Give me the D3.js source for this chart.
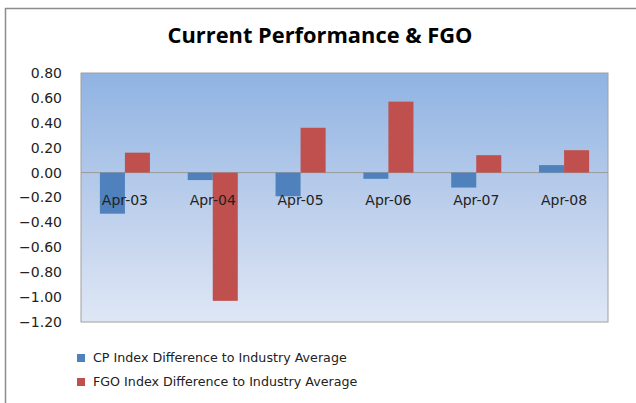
<!DOCTYPE html>
<html><head><meta charset="utf-8">
<script src="https://cdn.jsdelivr.net/npm/d3@7"></script>
<style>html,body{margin:0;padding:0;background:#fff;}svg{display:block;}</style>
</head><body>
<svg id="chart" width="636" height="403"></svg>
<script>
const categories = ["Apr-03","Apr-04","Apr-05","Apr-06","Apr-07","Apr-08"];
const cpValues  = [-0.33, -0.06, -0.19, -0.05, -0.12, 0.06];
const fgoValues = [0.16, -1.03, 0.36, 0.57, 0.14, 0.18];
const seriesNames = ["CP Index Difference to Industry Average","FGO Index Difference to Industry Average"];
const seriesColors = ["#4f81bd","#c0504d"];
const yTicks = [0.8,0.6,0.4,0.2,0,-0.2,-0.4,-0.6,-0.8,-1.0,-1.2];
const title = "Current Performance & FGO";

const svg = d3.select("#chart");
const font = "'DejaVu Sans', sans-serif";

// outer frame (top and left visible)
svg.append("path").attr("d","M5.5,403 V8.5 H636").attr("fill","none").attr("stroke","#8c8c8c").attr("stroke-width",1.5);

const L=81, R=608, T=73, B=322;
const y = d3.scaleLinear().domain([-1.2,0.8]).range([B,T]);
const x0 = d3.scaleBand().domain(categories).range([L,R]).paddingInner(0.43).paddingOuter(0.215);
const x1 = d3.scaleBand().domain([0,1]).range([0,x0.bandwidth()]);

const defs = svg.append("defs");
const g = defs.append("linearGradient").attr("id","bg").attr("x1",0).attr("y1",0).attr("x2",0).attr("y2",1);
g.append("stop").attr("offset","0%").attr("stop-color","#8fb3e2");
g.append("stop").attr("offset","50%").attr("stop-color","#b9cdeb");
g.append("stop").attr("offset","100%").attr("stop-color","#dfe7f5");

svg.append("rect").attr("x",L).attr("y",T).attr("width",R-L).attr("height",B-T)
  .attr("fill","url(#bg)").attr("stroke","#a0a0a0").attr("stroke-width",1);

// y axis labels
const yAxis = d3.axisLeft(y).tickValues(yTicks).tickFormat(d3.format(".2f")).tickSize(0).tickPadding(19);
const ya = svg.append("g").attr("transform",`translate(${L},0)`).call(yAxis);
ya.select(".domain").remove();
ya.selectAll("text").attr("font-family",font).attr("font-size",14).attr("fill","#222");

// zero line
svg.append("line").attr("x1",L).attr("x2",R).attr("y1",y(0)).attr("y2",y(0)).attr("stroke","#9a9a9a").attr("stroke-width",1);

const data = categories.map((c,i)=>({c, vals:[cpValues[i], fgoValues[i]]}));
const groups = svg.append("g").selectAll("g").data(data).join("g")
  .attr("transform",d=>`translate(${x0(d.c)},0)`);
groups.selectAll("rect").data(d=>d.vals.map((v,k)=>({v,k}))).join("rect")
  .attr("x",d=>x1(d.k)).attr("width",x1.bandwidth())
  .attr("y",d=>y(Math.max(0,d.v))).attr("height",d=>Math.abs(y(d.v)-y(0)))
  .attr("fill",d=>seriesColors[d.k]);

// category labels (near zero line)
const xAxis = d3.axisBottom(x0).tickSize(0).tickPadding(0);
const xa = svg.append("g").attr("transform",`translate(0,${y(0)+28})`).call(xAxis);
xa.select(".domain").remove();
xa.selectAll("text").attr("font-family",font).attr("font-size",14).attr("fill","#222").attr("dy","0.32em");

// title
svg.append("text").attr("x",320).attr("y",35).attr("dy","0.35em").attr("text-anchor","middle")
  .attr("font-family","'Open Sans', sans-serif").attr("font-weight","bold").attr("font-size",20)
  .attr("fill","#000").text(title)
  .each(function(){const w=this.getComputedTextLength(); d3.select(this).attr("font-size",20*305/w);});

// legend
const leg = svg.append("g");
const rows = leg.selectAll("g").data(seriesNames).join("g").attr("transform",(d,i)=>`translate(77,${358+i*24})`);
rows.append("rect").attr("x",0).attr("y",-4).attr("width",8).attr("height",8).attr("fill",(d,i)=>seriesColors[i]);
rows.append("text").attr("x",16).attr("dy","0.35em").attr("font-family",font).attr("font-size",12).attr("fill","#222")
  .text(d=>d)
  .each(function(d,i){ if(i===0){const w=this.getComputedTextLength(); rows.selectAll("text").attr("font-size",12*254/w);} });
</script>
</body></html>
